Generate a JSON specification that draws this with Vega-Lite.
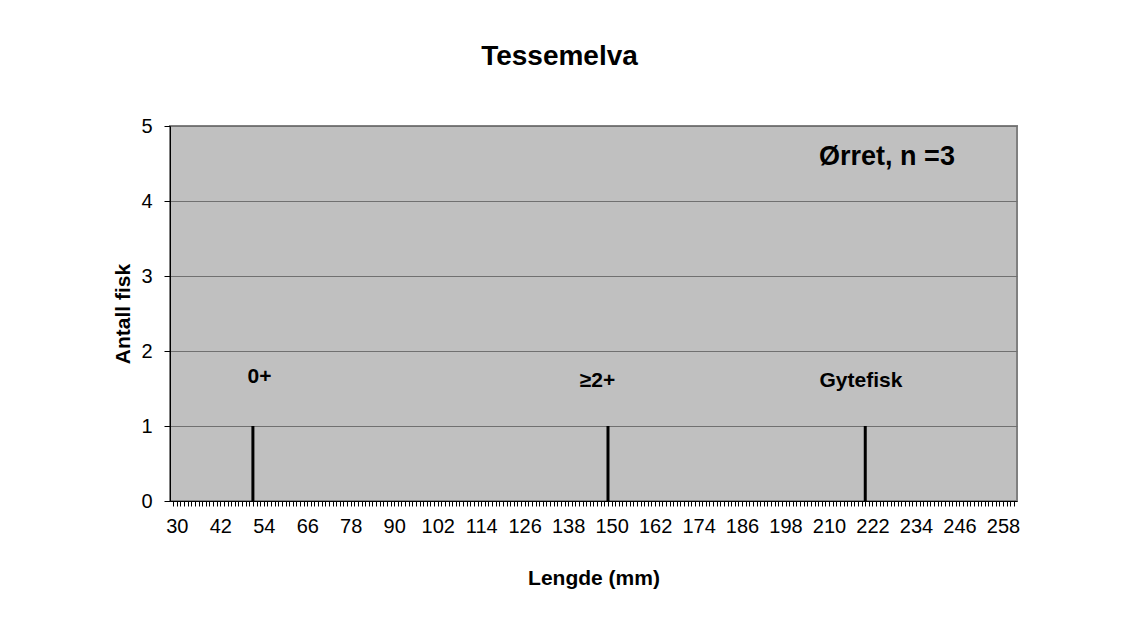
{
  "$schema": "https://vega.github.io/schema/vega-lite/v6.json",
  "width": 847,
  "height": 375,
  "autosize": {"type": "none"},
  "padding": {"left": 170, "top": 126, "right": 121, "bottom": 127},
  "background": "white",
  "title": {
    "text": "Tessemelva",
    "font": "Liberation Sans",
    "fontSize": 28,
    "fontWeight": "bold",
    "color": "black",
    "anchor": "middle",
    "dx": -34,
    "offset": 45
  },
  "config": {
    "view": {"fill": "#C0C0C0", "stroke": "#808080", "strokeWidth": 2},
    "axis": {
      "labelFont": "Liberation Sans",
      "labelFontSize": 20,
      "labelColor": "black",
      "titleFont": "Liberation Sans",
      "titleFontSize": 21,
      "titleFontWeight": "bold",
      "titleColor": "black",
      "domainColor": "black",
      "tickColor": "black",
      "domainWidth": 1,
      "tickWidth": 1
    }
  },
  "layer": [
    {
      "data": {
        "values": [
          {"lengde": 51, "antall": 1},
          {"lengde": 149, "antall": 1},
          {"lengde": 220, "antall": 1}
        ]
      },
      "mark": {"type": "bar", "size": 3, "color": "black"},
      "encoding": {
        "x": {
          "field": "lengde",
          "type": "quantitative",
          "scale": {"domain": [29.5, 260.5], "nice": false, "zero": false},
          "axis": {
            "title": "Lengde (mm)",
            "tickCount": 231,
            "labelExpr": "(datum.value - 30) % 12 === 0 ? datum.label : ''",
            "labelOverlap": false,
            "labelBound": false,
            "labelFlush": false,
            "grid": false,
            "tickSize": 5,
            "labelPadding": 10,
            "titlePadding": 31
          }
        },
        "y": {
          "field": "antall",
          "type": "quantitative",
          "scale": {"domain": [0, 5], "nice": false},
          "axis": {
            "title": "Antall fisk",
            "values": [0, 1, 2, 3, 4, 5],
            "format": "d",
            "grid": true,
            "gridColor": "#707070",
            "gridWidth": 1,
            "tickSize": 6,
            "labelPadding": 12,
            "titlePadding": 7
          }
        }
      }
    },
    {
      "data": {
        "values": [
          {"tekst": "0+", "x": 52.8, "y": 1.65},
          {"tekst": "≥2+", "x": 146.1, "y": 1.6},
          {"tekst": "Gytefisk", "x": 218.8, "y": 1.6}
        ]
      },
      "mark": {
        "type": "text",
        "font": "Liberation Sans",
        "fontSize": 21,
        "fontWeight": "bold",
        "color": "black",
        "align": "center",
        "baseline": "middle"
      },
      "encoding": {
        "x": {"field": "x", "type": "quantitative"},
        "y": {"field": "y", "type": "quantitative"},
        "text": {"field": "tekst"}
      }
    },
    {
      "data": {
        "values": [
          {"tekst": "Ørret, n =3", "x": 226.0, "y": 4.59}
        ]
      },
      "mark": {
        "type": "text",
        "font": "Liberation Sans",
        "fontSize": 27,
        "fontWeight": "bold",
        "color": "black",
        "align": "center",
        "baseline": "middle"
      },
      "encoding": {
        "x": {"field": "x", "type": "quantitative"},
        "y": {"field": "y", "type": "quantitative"},
        "text": {"field": "tekst"}
      }
    }
  ]
}
